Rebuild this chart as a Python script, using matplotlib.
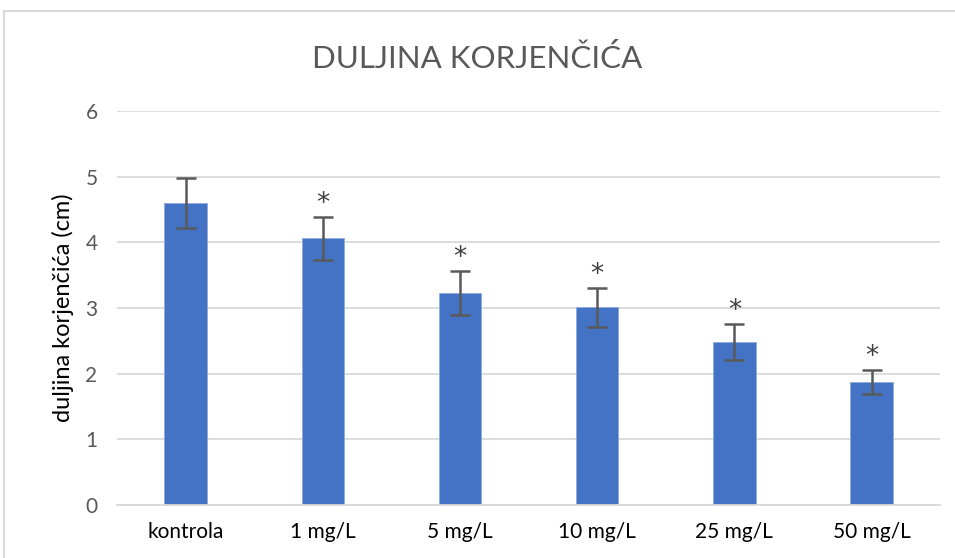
import matplotlib
matplotlib.use("Agg")
import matplotlib.pyplot as plt
from matplotlib.patches import Rectangle

# podaci
kategorije = ["kontrola", "1 mg/L", "5 mg/L", "10 mg/L", "25 mg/L", "50 mg/L"]
duljina = [4.60, 4.06, 3.23, 3.01, 2.48, 1.87]
greska = [0.38, 0.33, 0.34, 0.30, 0.27, 0.18]
znacajno = ["", "*", "*", "*", "*", "*"]

plt.rcParams['font.family'] = ['Lato', 'DejaVu Sans']

fig = plt.figure(figsize=(9.55, 5.58), dpi=100)
ax = fig.add_axes([0.1225, 0.095, 0.862, 0.706])

# okvir grafikona
fig.patches.append(Rectangle((4 / 955, -0.1), 1.1, 1.1 - 12 / 558 + 0.002,
                             transform=fig.transFigure, fill=False,
                             edgecolor="#d9d9d9", linewidth=1.5))

x = range(len(kategorije))
ax.bar(x, duljina, width=0.31, color="#4472C4", edgecolor="#8faadc", linewidth=0.6, zorder=2)
ax.errorbar(x, duljina, yerr=greska, fmt="none", ecolor="#595959",
            elinewidth=1.8, capsize=7, capthick=1.8, zorder=3)

for i, s in enumerate(znacajno):
    if s:
        ax.annotate(s, (i, duljina[i] + greska[i]), xytext=(0, 0),
                    textcoords="offset points", ha="center", va="bottom",
                    fontsize=19, color="#404040", family="DejaVu Sans")

ax.set_xlim(-0.5, len(kategorije) - 0.5)
ax.set_ylim(0, 6)
ax.set_yticks(range(0, 7))
ax.set_xticks(list(x))
ax.set_xticklabels(kategorije)
ax.grid(axis="y", color="#d9d9d9", linewidth=1.3, zorder=0)
for s in ["top", "right", "left"]:
    ax.spines[s].set_visible(False)
ax.spines["bottom"].set_color("#d9d9d9")
ax.spines["bottom"].set_linewidth(1.3)
ax.tick_params(axis="both", length=0)
ax.tick_params(axis="y", colors="#595959", pad=14, labelsize=15)
ax.tick_params(axis="x", colors="#000000", pad=12, labelsize=15)

ax.set_ylabel("duljina korjenčića (cm)", fontsize=17, color="#000000", labelpad=8)
fig.text(0.5, 0.895, "DULJINA KORJENČIĆA", ha="center", va="center",
         fontsize=22.5, color="#595959")

fig.savefig("out.png", dpi=100)
